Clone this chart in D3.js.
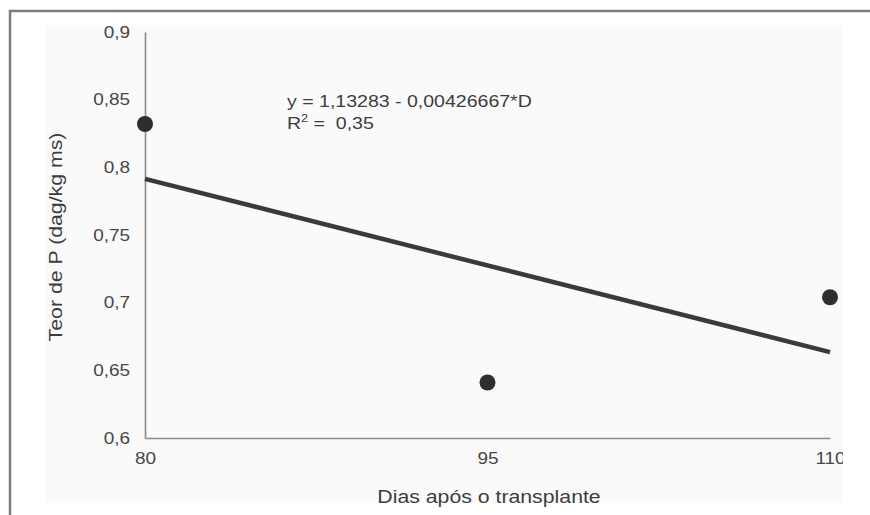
<!DOCTYPE html>
<html>
<head>
<meta charset="utf-8">
<script src="https://cdn.jsdelivr.net/npm/d3@7"></script>
<style>
  html, body { margin: 0; padding: 0; background: #ffffff; }
  svg { display: block; font-family: "Liberation Sans", Arial, sans-serif; }
</style>
</head>
<body>
<svg id="chart" width="870" height="515"></svg>
<script>
// Days after transplanting and phosphorus content
const days = [80, 95, 110];
const phosphorus = [0.832, 0.641, 0.704];
const xTicks = [80, 95, 110];
const yTicks = [0.6, 0.65, 0.7, 0.75, 0.8, 0.85, 0.9];
// Fitted linear model y = a + b*D
const intercept = 1.13283;
const slope = -0.00426667;
const equationText = "y = 1,13283 - 0,00426667*D";
const r2Text = "0,35";
const xTitle = "Dias após o transplante";
const yTitle = "Teor de P (dag/kg ms)";

const stretch = 1.15; // horizontal text widening
const fmt = v => String(+v.toFixed(2)).replace(".", ",");

const svg = d3.select("#chart");

// outer frame (top and left edges)
svg.append("path")
  .attr("d", "M10,515 L10,11 L870,11")
  .attr("fill", "none")
  .attr("stroke", "#7d7d7d")
  .attr("stroke-width", 2.5);

// panel background
svg.append("defs").append("clipPath").attr("id", "panel")
  .append("rect").attr("x", 45).attr("y", 25).attr("width", 798).attr("height", 478);
svg.append("rect")
  .attr("x", 45).attr("y", 25).attr("width", 798).attr("height", 478)
  .attr("fill", "#fafafa");

const g = svg.append("g").attr("clip-path", "url(#panel)");

const x = d3.scaleLinear().domain([80, 110]).range([145, 830]);
const y = d3.scaleLinear().domain([0.6, 0.9]).range([438, 32]);

// y axis
const yAxis = g.append("g")
  .attr("transform", `translate(${x(80)},0)`)
  .call(d3.axisLeft(y).tickValues(yTicks).tickFormat(fmt).tickSize(0).tickSizeOuter(0).tickPadding(13));
// x axis
const xAxis = g.append("g")
  .attr("transform", `translate(0,${y(0.6)})`)
  .call(d3.axisBottom(x).tickValues(xTicks).tickFormat(d => d).tickSize(0).tickSizeOuter(0).tickPadding(14));

[yAxis, xAxis].forEach(ax => {
  ax.select(".domain").attr("stroke", "#8a8a8a").attr("stroke-width", 1.6);
  ax.selectAll("text")
    .attr("font-family", "Liberation Sans, Arial, sans-serif")
    .attr("font-size", 16.5)
    .attr("fill", "#474747")
    .attr("transform", `scale(${stretch},1)`);
});

// regression line
const fit = d => intercept + slope * d;
const lineGen = d3.line().x(d => x(d)).y(d => y(fit(d)));
g.append("path")
  .datum([80, 110])
  .attr("d", lineGen)
  .attr("fill", "none")
  .attr("stroke", "#3a3a3a")
  .attr("stroke-width", 4.5);

// observed means
g.selectAll("circle.pt")
  .data(days.map((d, i) => ({ d, v: phosphorus[i] })))
  .join("circle")
  .attr("class", "pt")
  .attr("cx", p => x(p.d))
  .attr("cy", p => y(p.v))
  .attr("r", 8)
  .attr("fill", "#2e2e2e");

// equation
const eq = g.append("g").attr("fill", "#3d3d3d").attr("font-size", 17);
eq.append("text")
  .attr("transform", `translate(287,107) scale(${stretch},1)`)
  .text(equationText);
const r2 = eq.append("text")
  .attr("transform", `translate(287,129) scale(${stretch},1)`)
  .attr("xml:space", "preserve");
r2.append("tspan").text("R");
r2.append("tspan").attr("font-size", 11).attr("dy", -7).text("2");
r2.append("tspan").attr("dy", 7).text(" =  " + r2Text);

// axis titles
svg.append("text")
  .attr("transform", `translate(489,503) scale(${stretch},1)`)
  .attr("text-anchor", "middle")
  .attr("font-size", 18.5)
  .attr("fill", "#3d3d3d")
  .text(xTitle);

svg.append("text")
  .attr("transform", `translate(62,237) rotate(-90) scale(${stretch},1)`)
  .attr("text-anchor", "middle")
  .attr("font-size", 18.5)
  .attr("fill", "#3d3d3d")
  .text(yTitle);
</script>
</body>
</html>
